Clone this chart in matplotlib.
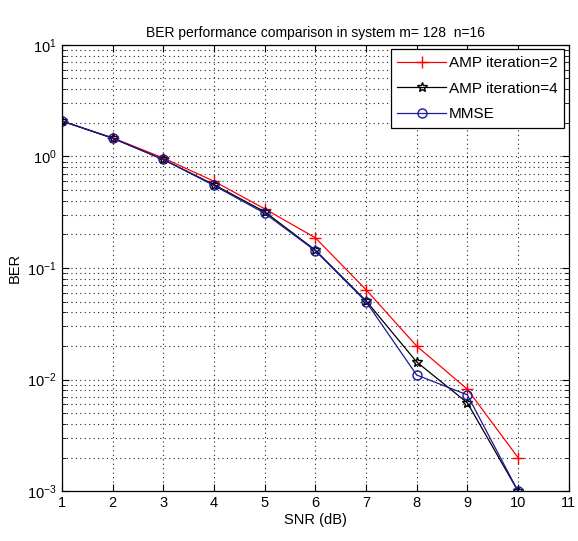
import matplotlib
matplotlib.use("Agg")
import matplotlib.pyplot as plt
import numpy as np

plt.rcParams['font.family'] = ['Liberation Sans', 'DejaVu Sans']

snr = [1, 2, 3, 4, 5, 6, 7, 8, 9, 10]
amp2 = [2.08, 1.47, 0.97, 0.60, 0.34, 0.187, 0.064, 0.020, 0.0082, 0.0020]
amp4 = [2.08, 1.46, 0.94, 0.56, 0.32, 0.145, 0.051, 0.0144, 0.0062, 0.0010]
mmse = [2.08, 1.46, 0.94, 0.55, 0.31, 0.143, 0.050, 0.011, 0.0073, 0.0010]
labels = ['AMP iteration=2', 'AMP iteration=4', 'MMSE']

fig = plt.figure(figsize=(5.78, 5.41), dpi=100)
ax = fig.add_axes([0.107, 0.092, 0.877, 0.825])

ax.semilogy(snr, amp2, color='red', marker='+', markersize=9, linewidth=0.9, label=labels[0])
ax.semilogy(snr, amp4, color='black', marker='*', markersize=7, markerfacecolor='none',
            linewidth=0.9, label=labels[1])
ax.semilogy(snr, mmse, color='#1a1a9a', marker='o', markersize=6.5, markerfacecolor='none',
            linewidth=0.9, label=labels[2])

ax.set_xlim(1, 11)
ax.set_ylim(1e-3, 1e1)
ax.set_xticks(range(1, 12))
dots = (0, (1, 3))
ax.grid(True, which='major', linestyle=dots, color='0.15', linewidth=0.8)
ax.grid(True, which='minor', axis='y', linestyle=dots, color='0.15', linewidth=0.8)
ax.tick_params(which='both', direction='in', top=True, right=True, labelsize=10.5)
ax.tick_params(which='major', length=5)
ax.tick_params(which='minor', length=3)
for s in ax.spines.values():
    s.set_linewidth(0.9)

ax.set_xlabel('SNR (dB)', fontsize=10.5, labelpad=2)
ax.set_ylabel('BER', fontsize=10.5)
ax.set_title('BER performance comparison in system m= 128  n=16', fontsize=10, pad=6)

leg = ax.legend(loc='upper right', fontsize=11, handlelength=3.2, fancybox=False,
                framealpha=1, edgecolor='black', borderaxespad=0.3, handletextpad=0.15,
                labelspacing=0.75, borderpad=0.45)
leg.get_frame().set_linewidth(0.9)

fig.savefig('out.png', dpi=100)
